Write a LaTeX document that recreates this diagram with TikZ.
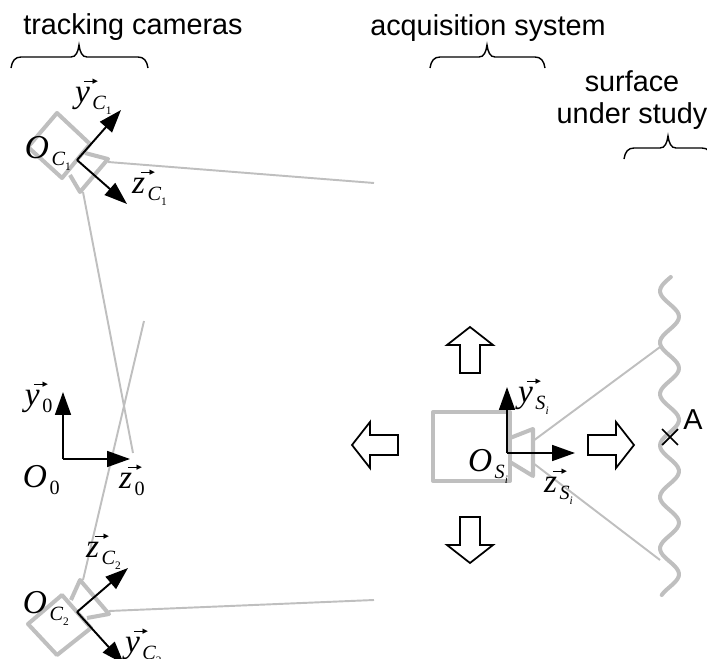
\documentclass[tikz,border=0pt]{standalone}
\usepackage{fontspec}
\setmainfont{Liberation Sans}
\newfontfamily\frmfont{Liberation Serif}
\newfontfamily\tipfont{DejaVu Sans}
\usetikzlibrary{arrows.meta,shapes.misc}
\definecolor{camgray}{HTML}{BFBFBF}
% frame labels: letter, subscript, sub-subscript
\newcommand{\frmsub}[2]{\kern1.5pt\raisebox{-4.5pt}{\fontsize{11.5}{12}\selectfont #1\raisebox{-2.5pt}{\fontsize{6.5}{7}\selectfont #2}}}
\newcommand{\frmlab}[3]{\mbox{\frmfont\itshape\fontsize{19}{20}\selectfont #1\frmsub{#2}{#3}}}
\newcommand{\vecbar}{\rlap{\kern5pt\raisebox{11.5pt}{\rule{5.5pt}{0.6pt}\kern-0.5pt\raisebox{-1.2pt}{\tipfont\fontsize{4}{4}\selectfont ▶}}}}
\newcommand{\veclab}[3]{\mbox{\frmfont\itshape\fontsize{19}{20}\selectfont\vecbar #1\frmsub{#2}{#3}}}
\tikzset{
  cambody/.style={draw=camgray,line width=2.3pt,line join=round},
  camray/.style={draw=camgray,line width=1.1pt},
  axis/.style={-{Triangle[length=13pt,width=9pt]},line width=1.1pt},
  holloarrow/.style={draw=black,line width=1pt,fill=white,miter limit=10},
  bracket/.style={line width=0.8pt},
  frm/.style={anchor=base west,inner sep=0pt,outer sep=0pt},
  title/.style={font=\fontsize{16.4}{18}\selectfont,inner sep=0pt}
}
\begin{document}
\begin{tikzpicture}[x=0.02cm,y=-0.02cm]
  \useasboundingbox (0,0) rectangle (707,659);
  \clip (0,0) rectangle (707,659);
  % frame origins
  \coordinate (OC1) at (77,160);
  \coordinate (OC2) at (77,612);
  \coordinate (O0) at (63,459);
  \coordinate (OS) at (507,453);
  % ray ends
  \coordinate (C1lens) at (108,162);
  \coordinate (C1low) at (83,192);
  \coordinate (C2lens) at (109,611);
  \coordinate (C2top) at (83,580);
  \coordinate (Slow) at (533,463);
  \coordinate (Sup) at (533,441);
  \coordinate (C1far) at (374,183);
  \coordinate (C1cross) at (133,453);
  \coordinate (C2far) at (374,600);
  \coordinate (C2cross) at (144,321);
  \coordinate (Swave1) at (660,347);
  \coordinate (Swave2) at (660,560);
  % rays
  \draw[camray] (C1lens) -- (C1far);
  \draw[camray] (C1low) -- (C1cross);
  \draw[camray] (C2lens) -- (C2far);
  \draw[camray] (C2top) -- (C2cross);
  \draw[camray] (Sup) -- (Swave1);
  \draw[camray] (Slow) -- (Swave2);
  % cameras
  \draw[cambody] (57,113) -- (90,144) -- (62,178) -- (28,147) -- cycle;
  \draw[cambody] (85,153) -- (108,159) -- (80,192) -- (70,175);
  \draw[cambody] (62,595) -- (91,628) -- (57,655) -- (28,624) -- cycle;
  \draw[cambody] (71,600) -- (80,580) -- (109,614) -- (87,618);
  \draw[cambody] (433,412) rectangle (510,481);
  \draw[cambody] (510,438) -- (533,429) -- (533,476) -- (510,462);
  % surface
  \draw[cambody,line cap=round,domain=277:595,samples=120,smooth] plot ({669.5-9.5*cos(6.99*(\x-291))},\x);
  \node[cross out,draw,line width=1pt,minimum size=8pt,inner sep=0pt] (A) at (670,437) {};
  \node[font=\fontsize{16.4}{17}\selectfont,inner sep=0pt] (Alab) at (693,420) {A};
  % displacement arrows
  \foreach \tipx/\tipy/\rot in {470/327/90,352/445/180,634/445/0,470/563/270}
    \draw[holloarrow,shift={(\tipx,\tipy)},rotate=\rot]
      (0,0) -- (-18,-23) -- (-18,-10) -- (-46,-10) -- (-46,10) -- (-18,10) -- (-18,23) -- cycle;
  % axes
  \coordinate (yC1) at (121,110);
  \coordinate (zC1) at (127,204);
  \coordinate (yC2) at (124,664);
  \coordinate (zC2) at (128,568);
  \coordinate (y0) at (63,392);
  \coordinate (z0) at (130,459);
  \coordinate (yS) at (507,387);
  \coordinate (zS) at (575,453);
  \foreach \org/\tipa/\tipb in {OC1/yC1/zC1,OC2/yC2/zC2,O0/y0/z0,OS/yS/zS} {
    \draw[axis] (\org) -- (\tipa);
    \draw[axis] (\org) -- (\tipb);
  }
  % labels
  \node[frm] (labOC1) at (25,158) {\frmlab{O}{C}{\upshape 1}};
  \node[frm] (labyC1) at (75,102) {\veclab{y}{C}{\upshape 1}};
  \node[frm] (labzC1) at (132,193) {\veclab{z}{C}{\upshape 1}};
  \node[frm] (labOC2) at (23,613) {\frmlab{O}{C}{\upshape 2}};
  \node[frm] (labzC2) at (86,557) {\veclab{z}{C}{\upshape 2}};
  \node[frm] (labyC2) at (125,652) {\veclab{y}{C}{\upshape 2}};
  \node[frm] (laby0) at (25,405) {\veclab{y}{\upshape 0}{}};
  \node[frm] (labO0) at (23,487) {\frmlab{O}{\upshape 0}{}};
  \node[frm] (labz0) at (119,488) {\veclab{z}{\upshape 0}{}};
  \node[frm] (labyS) at (518,402) {\veclab{y}{S}{i}};
  \node[frm] (labOS) at (468,471) {\frmlab{O}{S}{i}};
  \node[frm] (labzS) at (544,492) {\veclab{z}{S}{i}};
  % titles and braces
  \node[title] (tracking) at (133,27) {tracking cameras};
  \node[title] (acquisition) at (488,28) {acquisition system};
  \node[title,align=center] (surface) at (632,100) {surface\\under study};
  \foreach \bleft/\bmidd/\bright/\bbase in {11/79/148/68,430/487/545/68,624/668/712/159}
    \draw[bracket] (\bleft,\bbase) .. controls ({\bleft+1},{\bbase-7}) and ({\bleft+4},{\bbase-11}) .. ({\bleft+10},{\bbase-11})
      -- ({\bmidd-8},{\bbase-11}) .. controls ({\bmidd-3},{\bbase-11}) and ({\bmidd-1},{\bbase-16}) .. (\bmidd,{\bbase-23})
      .. controls ({\bmidd+1},{\bbase-16}) and ({\bmidd+3},{\bbase-11}) .. ({\bmidd+8},{\bbase-11})
      -- ({\bright-10},{\bbase-11}) .. controls ({\bright-4},{\bbase-11}) and ({\bright-1},{\bbase-7}) .. (\bright,\bbase);
\end{tikzpicture}
\end{document}
